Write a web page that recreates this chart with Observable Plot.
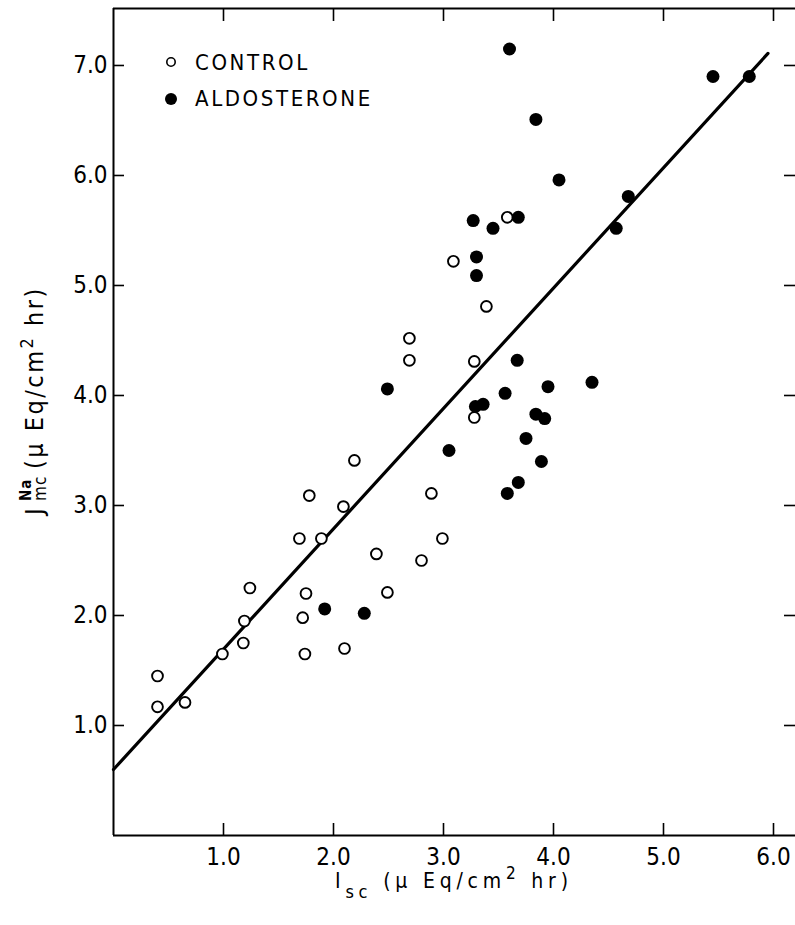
<!DOCTYPE html>
<html>
<head>
<meta charset="utf-8">
<script src="https://cdn.jsdelivr.net/npm/d3@7"></script>
<script src="https://cdn.jsdelivr.net/npm/@observablehq/plot@0.6"></script>
<style>
  html, body { margin: 0; padding: 0; background: #fff; }
</style>
</head>
<body>
<div id="chart"></div>
<script>
// ---- data ----
const controlX = [0.40, 0.40, 0.65, 0.99, 1.18, 1.19, 1.24, 1.72, 1.74, 1.75, 1.69, 1.78, 1.89, 2.09,
                  2.10, 2.19, 2.39, 2.49, 2.69, 2.69, 2.80, 2.89, 2.99, 3.09, 3.28, 3.28, 3.39, 3.58];
const controlY = [1.45, 1.17, 1.21, 1.65, 1.75, 1.95, 2.25, 1.98, 1.65, 2.20, 2.70, 3.09, 2.70, 2.99,
                  1.70, 3.41, 2.56, 2.21, 4.52, 4.32, 2.50, 3.11, 2.70, 5.22, 4.31, 3.80, 4.81, 5.62];
const aldoX = [1.92, 2.28, 2.49, 3.05, 3.27, 3.30, 3.30, 3.29, 3.36, 3.45, 3.56, 3.58, 3.60, 3.67,
               3.68, 3.68, 3.75, 3.84, 3.84, 3.92, 3.89, 3.95, 4.05, 4.35, 4.57, 4.68, 5.45, 5.78];
const aldoY = [2.06, 2.02, 4.06, 3.50, 5.59, 5.26, 5.09, 3.90, 3.92, 5.52, 4.02, 3.11, 7.15, 4.32,
               5.62, 3.21, 3.61, 6.51, 3.83, 3.79, 3.40, 4.08, 5.96, 4.12, 5.52, 5.81, 6.90, 6.90];
const fitX = [0, 5.95];
const fitY = [0.6, 7.11];
const xTicks = [1, 2, 3, 4, 5, 6];
const xTickLabels = ["1.0", "2.0", "3.0", "4.0", "5.0", "6.0"];
const yTicks = [1, 2, 3, 4, 5, 6, 7];
const yTickLabels = ["1.0", "2.0", "3.0", "4.0", "5.0", "6.0", "7.0"];
const seriesNames = ["CONTROL", "ALDOSTERONE"];
const xDomain = [0, 6.2];
const yDomain = [0, 7.518];

// ---- build tables ----
const control = controlX.map((x, i) => ({x, y: controlY[i]}));
const aldo = aldoX.map((x, i) => ({x, y: aldoY[i]}));
const fit = fitX.map((x, i) => ({x, y: fitY[i]}));

const tickFont = "'Liberation Sans Narrow','DejaVu Sans Condensed','Liberation Sans',sans-serif";
const labelFont = "'DejaVu Sans Condensed','Liberation Sans Narrow','Liberation Sans',sans-serif";

const plot = Plot.plot({
  width: 795,
  height: 925,
  marginLeft: 113,
  marginRight: 0,
  marginTop: 8,
  marginBottom: 90,
  x: {domain: xDomain},
  y: {domain: yDomain},
  style: {fontFamily: tickFont, fontSize: "24px", color: "#000", background: "#fff", overflow: "visible"},
  marks: [
    Plot.ruleX([xDomain[0]], {stroke: "#000", strokeWidth: 2}),
    Plot.ruleY([yDomain[0]], {stroke: "#000", strokeWidth: 2}),
    Plot.ruleY([yDomain[1]], {stroke: "#000", strokeWidth: 2}),
    Plot.axisX({anchor: "bottom", ticks: xTicks, tickFormat: d => xTickLabels[xTicks.indexOf(d)],
                tickSize: -12, tickPadding: 24, label: null, strokeWidth: 1.6}),
    Plot.axisX({anchor: "top", ticks: xTicks, tickFormat: () => "", tickSize: -12, label: null, strokeWidth: 1.6}),
    Plot.axisY({anchor: "left", ticks: yTicks, tickFormat: d => yTickLabels[yTicks.indexOf(d)],
                tickSize: -11, tickPadding: 17, label: null, strokeWidth: 1.6}),
    Plot.axisY({anchor: "right", ticks: yTicks, tickFormat: () => "", tickSize: -12, label: null, strokeWidth: 1.6}),
    Plot.line(fit, {x: "x", y: "y", stroke: "#000", strokeWidth: 3.2}),
    Plot.dot(control, {x: "x", y: "y", r: 5.4, fill: "#fff", stroke: "#000", strokeWidth: 1.9}),
    Plot.dot(aldo, {x: "x", y: "y", r: 6.5, fill: "#000", stroke: "none"})
  ]
});

document.getElementById("chart").appendChild(plot);

const svg = d3.select(plot);

// ---- legend ----
const lg = svg.append("g").attr("font-family", labelFont).attr("font-size", 22)
  .attr("letter-spacing", 2.6).attr("fill", "#000").attr("text-anchor", "start");
lg.append("circle").attr("cx", 171).attr("cy", 62).attr("r", 4.2).attr("fill", "#fff").attr("stroke", "#000").attr("stroke-width", 1.6);
lg.append("text").attr("x", 195).attr("y", 70).text(seriesNames[0]);
lg.append("circle").attr("cx", 171).attr("cy", 99).attr("r", 6).attr("fill", "#000");
lg.append("text").attr("x", 195).attr("y", 106).text(seriesNames[1]);

// ---- x axis label ----
const xl = svg.append("text").attr("x", 335).attr("y", 888).attr("font-family", labelFont)
  .attr("text-anchor", "start").attr("font-size", 21).attr("letter-spacing", 4.8).attr("fill", "#000");
xl.append("tspan").text("I");
xl.append("tspan").attr("dy", 10).attr("font-size", 18).text("sc");
xl.append("tspan").attr("dy", -10).text(" (μ Eq/cm");
xl.append("tspan").attr("dy", -9).attr("font-size", 17).text("2");
xl.append("tspan").attr("dy", 9).text(" hr)");

// ---- y axis label (rotated) ----
const yl = svg.append("text").attr("transform", "translate(43,515) rotate(-90)")
  .attr("text-anchor", "start")
  .attr("font-family", labelFont).attr("font-size", 25).attr("letter-spacing", 2.5).attr("fill", "#000");
yl.append("tspan").attr("x", 0).attr("y", 0).text("J");
yl.append("tspan").attr("x", 14).attr("y", -12).attr("font-size", 15).attr("font-weight", "bold").attr("letter-spacing", 1).text("Na");
yl.append("tspan").attr("x", 14).attr("y", 3).attr("font-size", 17).attr("letter-spacing", 1).text("mc");
yl.append("tspan").attr("x", 46).attr("y", 0).text("(μ Eq/cm");
yl.append("tspan").attr("dy", -10).attr("font-size", 18).text("2");
yl.append("tspan").attr("dy", 10).text(" hr)");
</script>
</body>
</html>
